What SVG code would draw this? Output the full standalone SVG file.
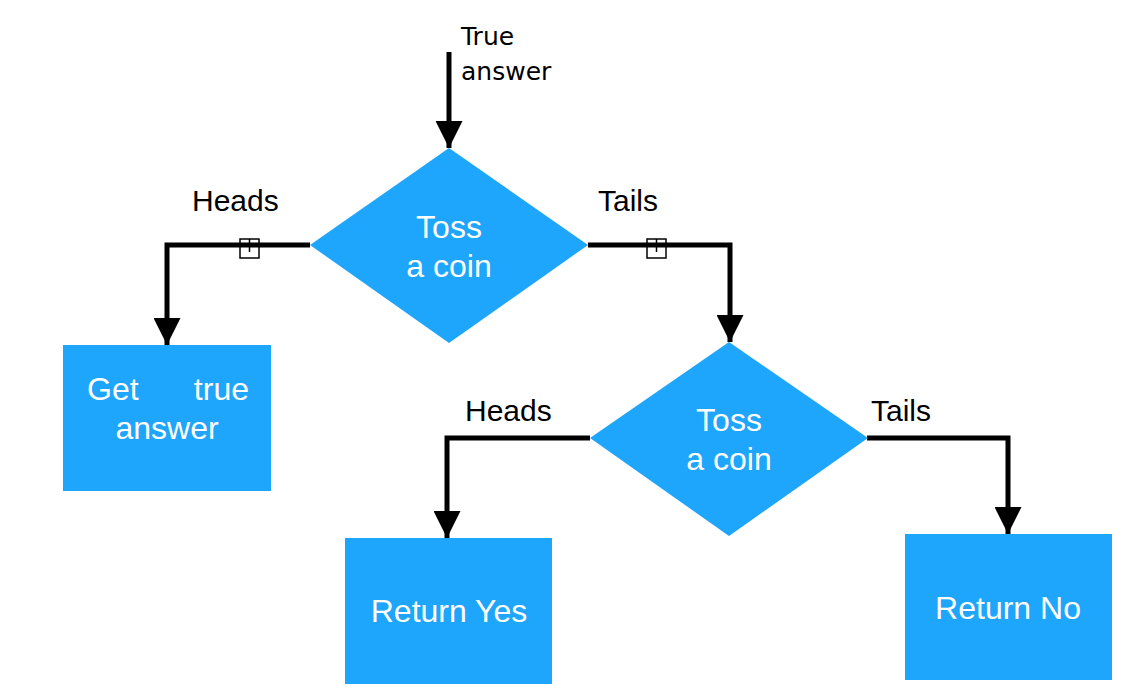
<svg xmlns="http://www.w3.org/2000/svg" width="1148" height="700" viewBox="0 0 1148 700">
<style>
.node{fill:#1ea5fc}
.nt{font-family:"Liberation Sans",Arial,sans-serif;font-size:32px;fill:#ffffff;text-anchor:middle}
.lbl{font-family:"Liberation Sans",Arial,sans-serif;font-size:30px;fill:#000000}
.ta{font-family:"DejaVu Sans",sans-serif;font-size:25px;fill:#000000}
.edge{fill:none;stroke:#000000;stroke-width:5}
.jmp{fill:none;stroke:#000000;stroke-width:1.5}
</style>
<defs>
<marker id="arr" viewBox="0 0 10 10" refX="10" refY="5" markerWidth="5.4" markerHeight="5.4" markerUnits="strokeWidth" orient="auto">
<path d="M0,0 L10,5 L0,10 Z" fill="#000000"/>
</marker>
</defs>
<rect width="1148" height="700" fill="#ffffff"/>
<g id="connectors">
<path class="edge" d="M449,52 V148" marker-end="url(#arr)"/>
<path class="edge" d="M310,245 H167 V345" marker-end="url(#arr)"/>
<path class="edge" d="M588,245 H730 V342" marker-end="url(#arr)"/>
<path class="edge" d="M590,438 H447 V538" marker-end="url(#arr)"/>
<path class="edge" d="M867,438 H1008 V534" marker-end="url(#arr)"/>
<rect class="jmp" x="240" y="239" width="19" height="19"/>
<path class="jmp" d="M249.5,239 V252"/>
<rect class="jmp" x="647" y="239" width="19" height="19"/>
<path class="jmp" d="M656.5,239 V252"/>
<text class="ta" x="461" y="45">True</text>
<text class="ta" x="461" y="80">answer</text>
<text class="lbl" x="192" y="211">Heads</text>
<text class="lbl" x="598" y="211">Tails</text>
<text class="lbl" x="465" y="421">Heads</text>
<text class="lbl" x="871" y="421">Tails</text>
</g>
<g id="toss1">
<polygon class="node" points="449,148 588,245 449,343 310,245"/>
<text class="nt" x="449" y="238">Toss</text>
<text class="nt" x="449" y="277">a coin</text>
</g>
<g id="get-true-answer">
<rect class="node" x="63" y="345" width="208" height="146"/>
<text class="nt" x="87" y="400" style="text-anchor:start">Get</text>
<text class="nt" x="249" y="400" style="text-anchor:end">true</text>
<text class="nt" x="167" y="439">answer</text>
</g>
<g id="toss2">
<polygon class="node" points="729,342 868,438 729,536 590,438"/>
<text class="nt" x="729" y="431">Toss</text>
<text class="nt" x="729" y="470">a coin</text>
</g>
<g id="return-yes">
<rect class="node" x="345" y="538" width="207" height="146"/>
<text class="nt" x="449" y="622">Return Yes</text>
</g>
<g id="return-no">
<rect class="node" x="905" y="534" width="207" height="146"/>
<text class="nt" x="1008" y="619">Return No</text>
</g>
</svg>
